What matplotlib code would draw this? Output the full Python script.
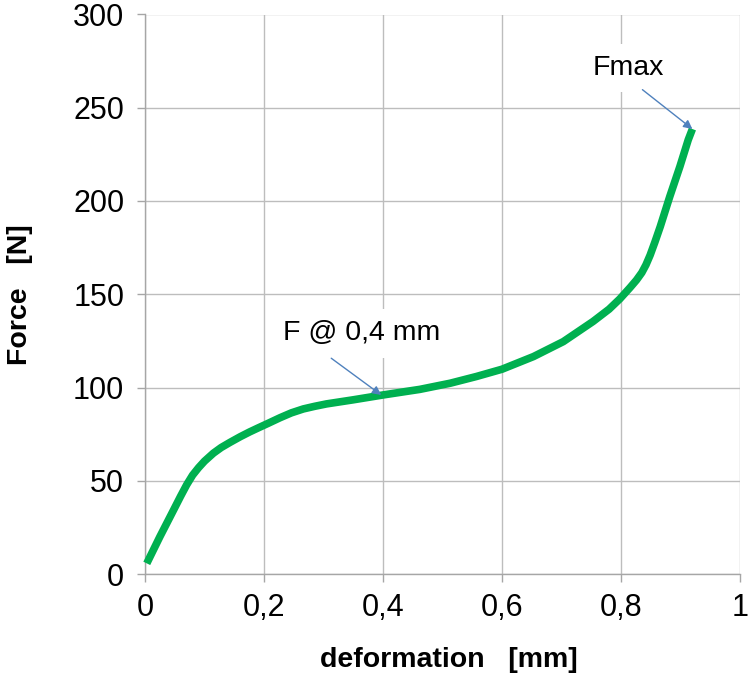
import matplotlib
matplotlib.use("Agg")
import matplotlib.pyplot as plt

# Data
deformation_mm = [0.003, 0.025, 0.048, 0.060, 0.070, 0.080, 0.090, 0.100, 0.115,
                  0.128, 0.143, 0.160, 0.176, 0.190, 0.207, 0.227, 0.246, 0.266,
                  0.285, 0.305, 0.350, 0.400, 0.462, 0.513, 0.557, 0.600, 0.653,
                  0.703, 0.753, 0.780, 0.798, 0.815, 0.826, 0.835, 0.842, 0.849,
                  0.857, 0.866, 0.882, 0.899, 0.913, 0.920]
force_N = [5.7, 20.0, 34.3, 41.8, 47.8, 53.0, 57.0, 60.5, 64.8,
           67.8, 70.6, 73.6, 76.2, 78.3, 80.8, 83.8, 86.4, 88.5,
           89.9, 91.2, 93.4, 96.0, 99.0, 102.3, 105.9, 109.8, 116.6,
           124.6, 135.4, 142.0, 147.5, 153.5, 157.6, 161.6, 165.8, 171.0,
           178.0, 186.3, 202.4, 218.5, 232.8, 238.6]

x_ticks = [0, 0.2, 0.4, 0.6, 0.8, 1.0]
x_tick_labels = ["0", "0,2", "0,4", "0,6", "0,8", "1"]
y_ticks = [0, 50, 100, 150, 200, 250, 300]
y_tick_labels = ["0", "50", "100", "150", "200", "250", "300"]

label_fmax = "Fmax"
label_f04 = "F @ 0,4 mm"
fmax_point = (0.920, 238.6)
fmax_text = (0.812, 271.5)
fmax_arrow_start = (0.836, 259.7)
f04_point = (0.397, 96.0)
f04_text = (0.364, 129.0)
f04_arrow_start = (0.313, 115.7)

plt.rcParams['font.family'] = ['Liberation Sans', 'DejaVu Sans']

fig = plt.figure(figsize=(7.48, 6.74), dpi=100)
ax = fig.add_axes([145/748, 1 - 574/674, 595/748, (574 - 14.5)/674])

grid_color = "#BDBDBD"
axis_color = "#A6A6A6"

ax.set_xlim(0, 1)
ax.set_ylim(0, 300)
ax.set_xticks(x_ticks)
ax.set_xticklabels(x_tick_labels)
ax.set_yticks(y_ticks)
ax.set_yticklabels(y_tick_labels)
ax.grid(True, color=grid_color, linewidth=1.0, zorder=0)
ax.set_axisbelow(True)
for s in ["top", "right"]:
    ax.spines[s].set_visible(False)
for s in ["left", "bottom"]:
    ax.spines[s].set_color(axis_color)
    ax.spines[s].set_linewidth(1.0)
ax.tick_params(axis="both", direction="out", length=6, width=1.0,
               color=axis_color, labelsize=22, labelcolor="black", pad=9)
ax.tick_params(axis="x", pad=8)

ax.plot(deformation_mm, force_N, color="#00B050", linewidth=5.5,
        solid_capstyle="butt", solid_joinstyle="round", zorder=5, clip_on=False)

ax.set_xlabel("deformation   [mm]", fontsize=20.5, fontweight="bold")
ax.set_ylabel("Force   [N]", fontsize=20.5, fontweight="bold")
ax.xaxis.set_label_coords(0.51, -0.13)
ax.yaxis.set_label_coords(-0.189, 0.5)

box = dict(facecolor="white", edgecolor="none", pad=8)
ax.text(*fmax_text, label_fmax, fontsize=20.5, ha="center", va="center",
        bbox=box, zorder=3)
ax.text(*f04_text, label_f04, fontsize=20.5, ha="center", va="center",
        bbox=box, zorder=3)

arrow = dict(arrowstyle="-|>", color="#4F81BD", lw=1.0, mutation_scale=13,
             shrinkA=0, shrinkB=0)
ax.annotate("", xy=fmax_point, xytext=fmax_arrow_start, arrowprops=arrow,
            zorder=6, annotation_clip=False)
ax.annotate("", xy=f04_point, xytext=f04_arrow_start, arrowprops=arrow,
            zorder=6, annotation_clip=False)

fig.savefig("out.png", dpi=100, facecolor="white")
